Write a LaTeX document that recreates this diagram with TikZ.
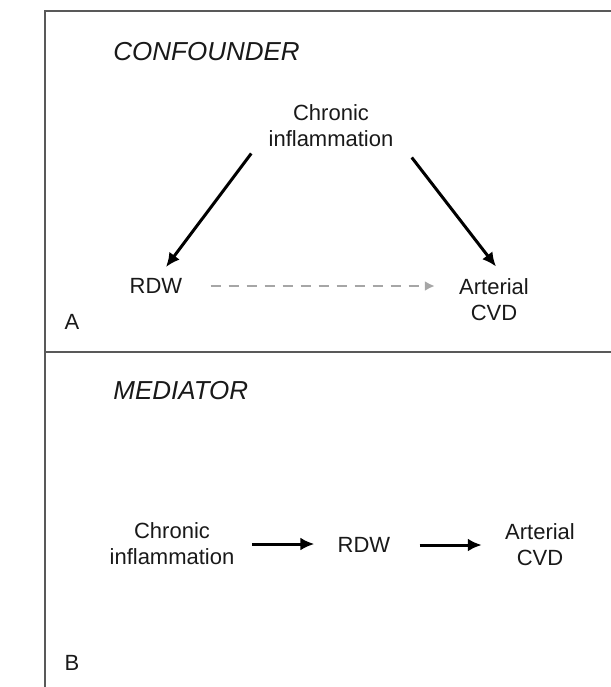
\documentclass[tikz,border=0pt]{standalone}
\usepackage{fontspec}
\setmainfont{Liberation Sans}
\usetikzlibrary{arrows.meta}
\tikzset{arrow/.style={->, >={Latex[length=7pt,width=6.5pt]}, line width=1.5pt},
  dasharrow/.style={->, >={Latex[length=5pt,width=5pt]}, line width=1.2pt, draw=black!35, dash pattern=on 5pt off 4pt},
  var/.style={font=\fontsize{11}{13}\selectfont, text=black!90, align=center, inner sep=2pt},
  title/.style={font=\fontsize{13}{15}\selectfont\itshape, text=black!90, anchor=west, inner sep=0pt},
  panel/.style={font=\fontsize{11}{13}\selectfont, text=black!90, inner sep=0pt}}

\begin{document}
\begin{tikzpicture}[x=0.5pt, y=-0.5pt]
      \useasboundingbox (0,0) rectangle (611,687);
      % frame
      \draw[black!65, line width=1pt] (611,11) -- (45,11) -- (45,687);
      \draw[black!65, line width=1pt] (45,352) -- (611,352);

      % A: confounder
      \node[title] (tA) at (113, 52) {CONFOUNDER};
      \node[var] (CI) at (331, 126) {Chronic\\inflammation};
      \node[var] (RDW) at (156, 286) {RDW};
      \node[var] (AC) at (494, 300) {Arterial\\CVD};
      \node[panel] (pA) at (72, 322) {A};

      \draw[arrow] ([xshift=-6.5pt, yshift=-1pt]CI.south west) -- ([xshift=5pt, yshift=3.5pt]RDW.north);
      \draw[arrow] ([xshift=7pt, yshift=-3pt]CI.south east) -- ([xshift=1pt, yshift=4pt]AC.north);
      \draw[dasharrow, shorten <=12pt, shorten >=10pt] (RDW.east) -- (RDW.east -| AC.west);

      % B: mediator
      \node[title] (tB) at (113, 391) {MEDIATOR};
      \node[var] (CI2) at (172, 544) {Chronic\\inflammation};
      \node[var] (RDW2) at (364, 545) {RDW};
      \node[var] (AC2) at (540, 545) {Arterial\\CVD};
      \node[panel] (pB) at (72, 663) {B};

      \draw[arrow, shorten <=6.5pt, shorten >=9.5pt] (CI2.east) -- (CI2.east -| RDW2.west);
      \draw[arrow, shorten <=12.5pt, shorten >=9.5pt] (RDW2.east) -- (RDW2.east -| AC2.west);
    \end{tikzpicture}
\end{document}
